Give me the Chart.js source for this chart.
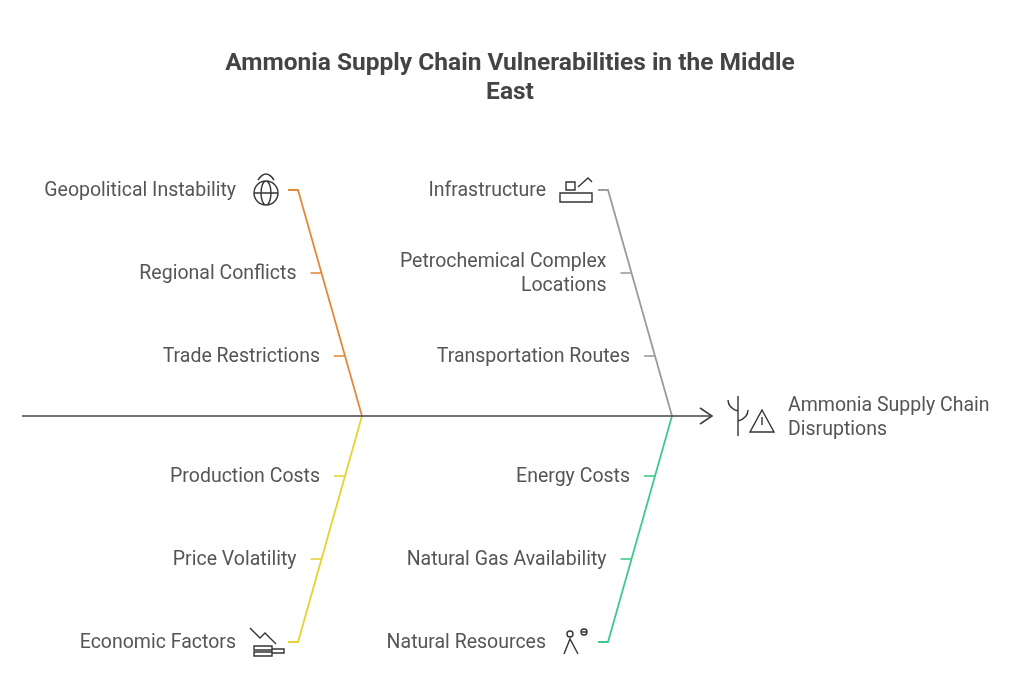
<!DOCTYPE html>
<html>
<head>
<meta charset="utf-8">
<script src="https://cdn.jsdelivr.net/npm/chart.js@4"></script>
<style>
  body { margin: 0; background: #fff; }
  #wrap { width: 1024px; height: 673px; }
</style>
</head>
<body>
<div id="wrap"><canvas id="c"></canvas></div>
<script>
// Datos del diagrama
const titleLines = ['Ammonia Supply Chain Vulnerabilities in the Middle', 'East'];
const effectLines = ['Ammonia Supply Chain', 'Disruptions'];
const categories = ['Geopolitical Instability', 'Infrastructure', 'Economic Factors', 'Natural Resources'];
const causes = [
    ['Regional Conflicts', 'Trade Restrictions'],
    [['Petrochemical Complex', 'Locations'], 'Transportation Routes'],
    ['Production Costs', 'Price Volatility'],
    ['Energy Costs', 'Natural Gas Availability']
];
const colors = ['#e3893a', '#9b9b9b', '#e6d233', '#40c98c'];

// Geometría (en píxeles de la escala)
const spineY = 416;
const branchEnds = [[298, 190, 362], [608, 190, 672], [298, 642, 362], [608, 642, 672]];
const tickYs = [[273, 356], [273, 356], [476, 559], [476, 559]];

function branchX(b, y) {
    const [x0, y0, x1] = b;
    return x0 + (x1 - x0) * (y - y0) / (spineY - y0);
}

const datasets = [];
datasets.push({ data: [{x: 22, y: spineY}, {x: 712, y: spineY}], borderColor: '#444', borderWidth: 1.6 });
datasets.push({ data: [{x: 700, y: spineY - 8}, {x: 712, y: spineY}, {x: 700, y: spineY + 8}], borderColor: '#444', borderWidth: 1.6 });
branchEnds.forEach((b, i) => {
    datasets.push({ data: [{x: b[0] - 10, y: b[1]}, {x: b[0], y: b[1]}, {x: b[2], y: spineY}], borderColor: colors[i], borderWidth: 1.8 });
    tickYs[i].forEach(y => {
        const x = branchX(b, y);
        datasets.push({ data: [{x: x - 11, y: y}, {x: x, y: y}], borderColor: colors[i], borderWidth: 1.6 });
    });
});

const labelPlugin = {
    id: 'labels',
    afterDraw(chart) {
        const ctx = chart.ctx;
        const sx = chart.scales.x, sy = chart.scales.y;
        ctx.save();
        ctx.fillStyle = '#444';
        ctx.textAlign = 'center';
        ctx.textBaseline = 'middle';
        ctx.font = 'bold 24.5px Roboto, "Open Sans", sans-serif';
        titleLines.forEach((t, i) => ctx.fillText(t, sx.getPixelForValue(510), sy.getPixelForValue(64 + i * 29)));

        ctx.fillStyle = '#555';
        ctx.font = '19.5px Roboto, "Open Sans", sans-serif';
        ctx.textAlign = 'right';
        const drawLabel = (lab, xr, y) => {
            const lines = Array.isArray(lab) ? lab : [lab];
            lines.forEach((l, k) => ctx.fillText(l, sx.getPixelForValue(xr), sy.getPixelForValue(y + 1 + (k - (lines.length - 1) / 2) * 24)));
        };
        branchEnds.forEach((b, i) => {
            drawLabel(categories[i], b[0] - 62, b[1]);
            tickYs[i].forEach((y, j) => drawLabel(causes[i][j], branchX(b, y) - 25, y));
            drawIcon(ctx, i, sx.getPixelForValue(b[0] - 32), sy.getPixelForValue(b[1]), colors[i]);
        });
        ctx.textAlign = 'left';
        effectLines.forEach((t, i) => ctx.fillText(t, sx.getPixelForValue(788), sy.getPixelForValue(406 + i * 24)));
        drawIcon(ctx, 4, sx.getPixelForValue(750), sy.getPixelForValue(416), '#444');
        ctx.restore();
    }
};

// Iconos simples de línea
function drawIcon(ctx, k, x, y, c) {
    ctx.save();
    ctx.strokeStyle = '#333';
    ctx.lineWidth = 1.4;
    ctx.beginPath();
    if (k === 0) {
        ctx.arc(x, y + 3, 12, 0, Math.PI * 2);
        ctx.moveTo(x - 12, y + 3); ctx.lineTo(x + 12, y + 3);
        ctx.ellipse(x, y + 3, 5, 12, 0, 0, Math.PI * 2);
        ctx.moveTo(x - 8, y - 10); ctx.quadraticCurveTo(x, y - 22, x + 8, y - 10);
    } else if (k === 1) {
        ctx.rect(x - 16, y + 3, 32, 9);
        ctx.rect(x - 10, y - 8, 9, 8);
        ctx.moveTo(x + 2, y - 3); ctx.lineTo(x + 12, y - 12); ctx.lineTo(x + 16, y - 8);
    } else if (k === 2) {
        ctx.moveTo(x - 16, y - 14); ctx.lineTo(x - 6, y - 4); ctx.lineTo(x - 1, y - 9); ctx.lineTo(x + 10, y + 2);
        ctx.rect(x - 12, y + 4, 18, 4); ctx.rect(x - 12, y + 10, 18, 4); ctx.rect(x + 6, y + 7, 12, 4);
    } else if (k === 3) {
        ctx.arc(x - 6, y - 8, 3, 0, Math.PI * 2);
        ctx.moveTo(x - 12, y + 12); ctx.lineTo(x - 6, y - 3); ctx.lineTo(x + 2, y + 12);
        ctx.moveTo(x + 6, y - 10); ctx.arc(x + 8, y - 10, 3, 0, Math.PI * 2);
    } else {
        ctx.moveTo(x - 12, y + 20); ctx.lineTo(x - 12, y - 20);
        ctx.moveTo(x - 12, y - 5); ctx.quadraticCurveTo(x - 22, y - 8, x - 22, y - 16);
        ctx.moveTo(x - 12, y + 5); ctx.quadraticCurveTo(x - 2, y + 2, x - 2, y - 6);
        ctx.moveTo(x + 12, y - 6); ctx.lineTo(x + 24, y + 16); ctx.lineTo(x, y + 16); ctx.closePath();
        ctx.moveTo(x + 12, y + 1); ctx.lineTo(x + 12, y + 9);
    }
    ctx.stroke();
    ctx.restore();
}

new Chart(document.getElementById('c'), {
    type: 'scatter',
    data: { datasets: datasets.map(d => Object.assign({ showLine: true, pointRadius: 0, fill: false, tension: 0 }, d)) },
    options: {
        responsive: true,
        maintainAspectRatio: false,
        animation: false,
        layout: { padding: 0 },
        plugins: { legend: { display: false }, tooltip: { enabled: false } },
        scales: {
            x: { type: 'linear', min: 0, max: 1024, display: false },
            y: { type: 'linear', min: 0, max: 673, reverse: true, display: false }
        }
    },
    plugins: [labelPlugin]
});
</script>
</body>
</html>
